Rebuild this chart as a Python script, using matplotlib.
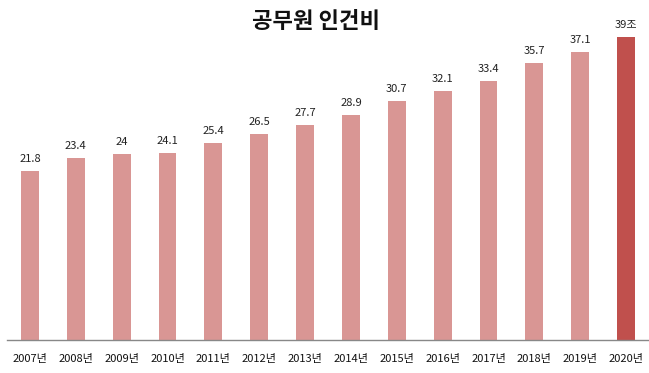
import matplotlib
matplotlib.use("Agg")
import matplotlib.pyplot as plt

plt.rcParams['font.family'] = ['Noto Sans CJK KR', 'DejaVu Sans']

# 연도별 공무원 인건비 (조 원)
years = ["2007년", "2008년", "2009년", "2010년", "2011년", "2012년", "2013년",
         "2014년", "2015년", "2016년", "2017년", "2018년", "2019년", "2020년"]
values = [21.8, 23.4, 24, 24.1, 25.4, 26.5, 27.7, 28.9, 30.7, 32.1, 33.4, 35.7, 37.1, 39]
labels = ["21.8", "23.4", "24", "24.1", "25.4", "26.5", "27.7", "28.9", "30.7",
          "32.1", "33.4", "35.7", "37.1", "39조"]

W, H = 649, 373
fig = plt.figure(figsize=(W / 100, H / 100), dpi=100)
ymax = 42
bottom_px, top_px = 340, 13.7
ax = fig.add_axes([7 / W, (H - bottom_px) / H, 642 / W, (bottom_px - top_px) / H])

x = list(range(len(years)))
colors = ["#D99694"] * (len(years) - 1) + ["#C0504D"]
ax.bar(x, values, width=0.39, color=colors)

for xi, v, lab in zip(x, values, labels):
    ax.text(xi, v + 0.9, lab, ha="center", va="bottom", fontsize=8, color="#222222")

ax.set_xlim(-0.5, 13.5)
ax.set_ylim(0, ymax)
ax.set_xticks(x)
ax.set_xticklabels(years, fontsize=8, color="#111111")
ax.tick_params(axis="x", length=0, pad=10)
ax.set_yticks([])
for s in ["top", "right", "left"]:
    ax.spines[s].set_visible(False)
ax.spines["bottom"].set_color("#888888")
ax.spines["bottom"].set_linewidth(1)

fig.text(316 / W, 1 - 21 / H, "공무원 인건비", ha="center", va="center",
         fontsize=16, fontweight="bold", color="#111111")

fig.savefig("out.png", dpi=100)
